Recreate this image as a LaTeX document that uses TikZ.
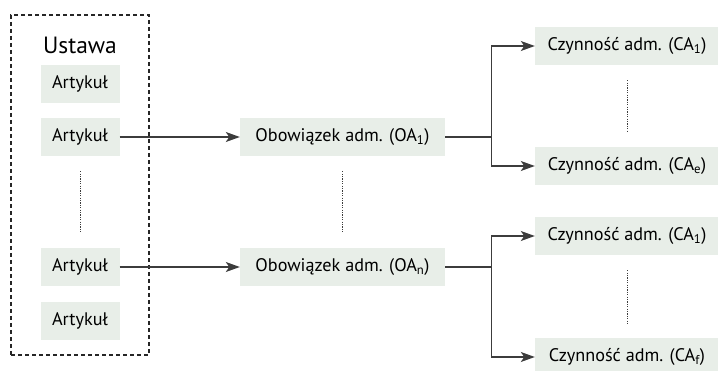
\documentclass[tikz,border=0pt]{standalone}
\usepackage{fontspec}
\setmainfont{PT Sans}
\usepackage{xcolor}
\usetikzlibrary{shapes.geometric, arrows, arrows.meta, positioning}
\definecolor{boxfill}{RGB}{232,238,232}
\definecolor{linegray}{RGB}{60,60,60}
\tikzstyle{line} = [draw=linegray, line width=1.2pt]
\tikzstyle{arrow} = [line, -{Stealth[length=14pt, width=10pt, inset=3.5pt]}]
\tikzstyle{block} = [rectangle, fill=boxfill, minimum height=38pt, font=\fontsize{18.2}{21}\selectfont]
\tikzstyle{dots} = [draw=linegray, line width=0.9pt, dash pattern=on 1.2pt off 1.2pt]
\tikzset{every node/.style={align=center}}

\begin{document}
\begin{tikzpicture}[x=1pt, y=1pt, node distance=53pt]
    \useasboundingbox (0,0) rectangle (718,-371);

    % the act and its articles
    \node (lawbox) [draw=black!85, line width=1.3pt, dash pattern=on 4pt off 3pt, minimum width=138pt, minimum height=340pt] at (80,-185) {};
    \node (law) [font=\fontsize{23.5}{26}\selectfont] at (80,-45) {Ustawa};
    \node (art1) [block, minimum width=79pt] at (80,-84) {Artykuł};
    \node (art2) [block, minimum width=79pt, below of=art1] {Artykuł};
    \node (art4) [block, minimum width=79pt] at (80,-321) {Artykuł};
    \node (art3) [block, minimum width=79pt, above of=art4, node distance=54pt] {Artykuł};

    % obligations
    \node (oa1) [block, minimum width=205pt] at (342.5,-137) {Obowiązek adm. (OA\textsubscript{1})};
    \node (oan) [block, minimum width=205pt] at (342.5,-267) {Obowiązek adm. (OA\textsubscript{n})};

    % activities
    \node (ca1) [block, minimum width=184pt] at (627,-46) {Czynność adm. (CA\textsubscript{1})};
    \node (cae) [block, minimum width=184pt] at (627,-166) {Czynność adm. (CA\textsubscript{e})};
    \node (cb1) [block, minimum width=184pt] at (627,-236) {Czynność adm. (CA\textsubscript{1})};
    \node (cbf) [block, minimum width=184pt] at (627,-357) {Czynność adm. (CA\textsubscript{f})};

    \draw [dots] ([yshift=-15pt]art2.south) -- ([yshift=16pt]art3.north);
    \draw [dots] ([yshift=-15pt]oa1.south) -- ([yshift=16pt]oan.north);
    \draw [dots] ([yshift=-15pt]ca1.south) -- ([yshift=15pt]cae.north);
    \draw [dots] ([yshift=-15pt]cb1.south) -- ([yshift=14pt]cbf.north);

    \draw [arrow] (art2) -- (oa1);
    \draw [arrow] (art3) -- (oan);

    \draw [line] (oa1.east) -- ++(46,0) coordinate (fork1);
    \draw [arrow] (fork1) |- (ca1);
    \draw [arrow] (fork1) |- (cae);
    \draw [line] (oan.east) -- ++(46,0) coordinate (fork2);
    \draw [arrow] (fork2) |- (cb1);
    \draw [arrow] (fork2) |- (cbf);
\end{tikzpicture}
\end{document}
